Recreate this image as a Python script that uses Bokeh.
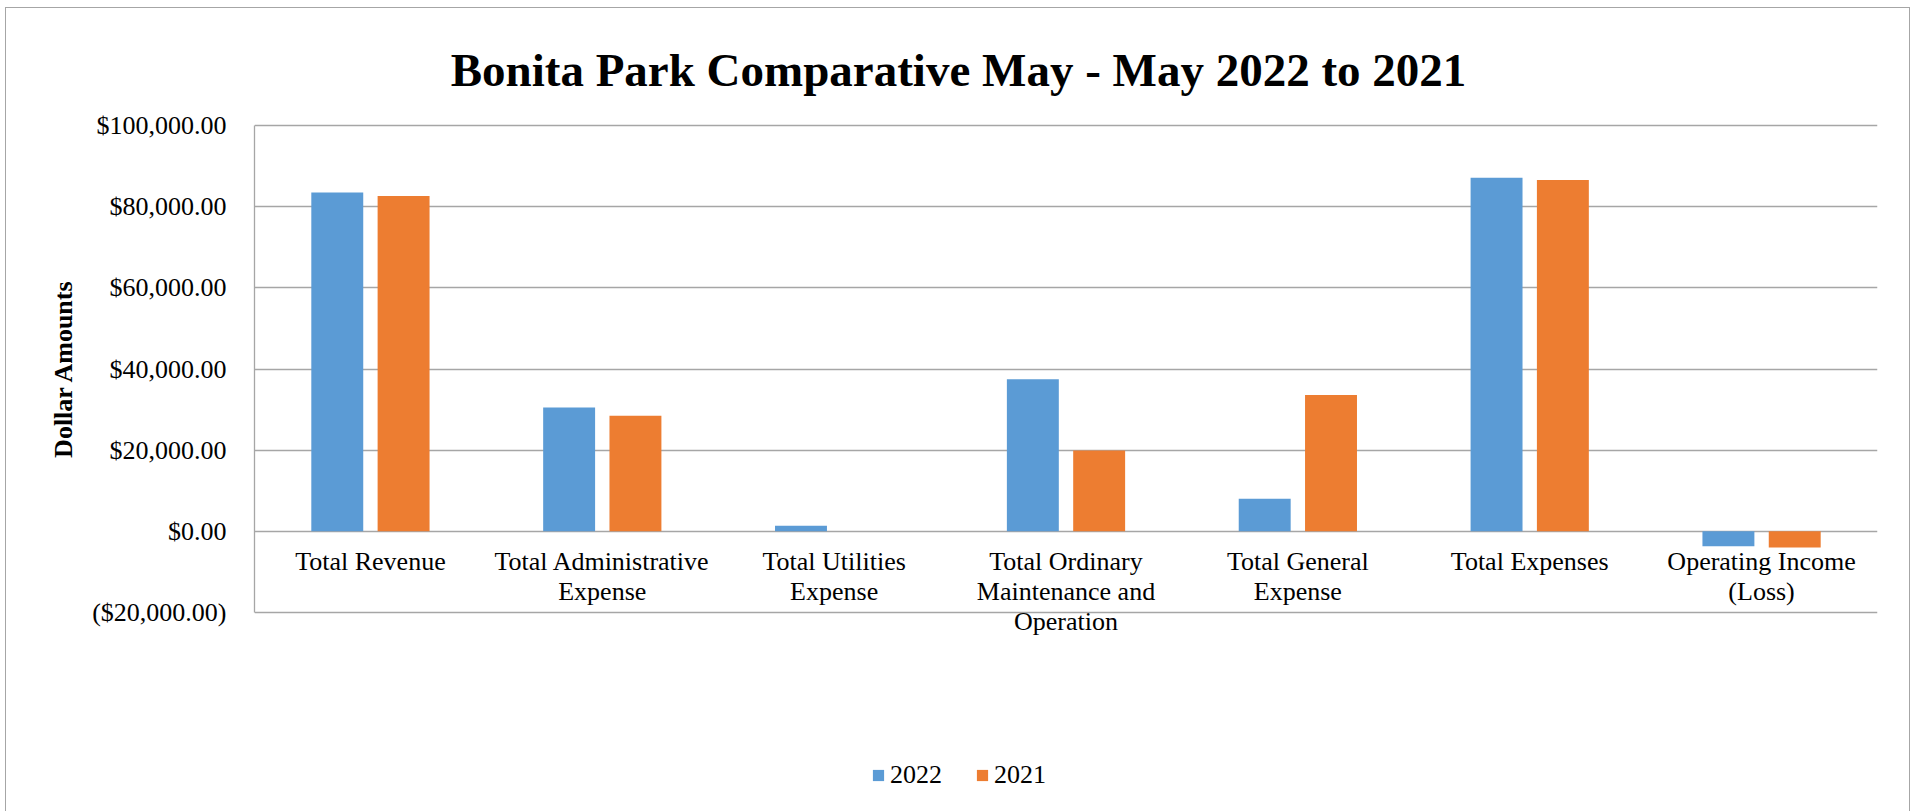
import textwrap
from bokeh.plotting import figure
from bokeh.models import (ColumnDataSource, FactorRange, Range1d, FixedTicker, Title,
                          CustomJSTickFormatter, LabelSet, Label, Legend, LegendItem)
from bokeh.transform import dodge
from bokeh.embed import file_html
from bokeh.resources import INLINE

# ---------------- data ----------------
categories = ["Total Revenue", "Total Administrative Expense", "Total Utilities Expense",
              "Total Ordinary Maintenance and Operation", "Total General Expense",
              "Total Expenses", "Operating Income (Loss)"]
series_names = ["2022", "2021"]
values_2022 = [83500, 30500, 1400, 37500, 8000, 87100, -3700]
values_2021 = [82600, 28500, 0, 19900, 33600, 86600, -4000]
y_ticks = [-20000, 0, 20000, 40000, 60000, 80000, 100000]
title_text = "Bonita Park Comparative May - May 2022 to 2021"
y_axis_title = "Dollar Amounts"

# ---------------- styles ----------------
FONT = "Liberation Serif"
BLUE = "#5B9BD5"
ORANGE = "#ED7D31"
GRID = "#a6a6a6"

# geometry (pixels): value axis spans 487 px; the frame extends beyond it
# (117 px above, 193 px below) so that title, labels and legend sit inside it
AXIS_PX = 487.0
PAD_TOP_PX = 117.0
PAD_BOTTOM_PX = 193.0
span = y_ticks[-1] - y_ticks[0]
units_per_px = span / AXIS_PX
y_lo = y_ticks[0] - PAD_BOTTOM_PX * units_per_px
y_hi = y_ticks[-1] + PAD_TOP_PX * units_per_px

src = ColumnDataSource(dict(cat=categories, v2022=values_2022, v2021=values_2021))

# one row per wrapped line of each category label
lab_cat, lab_txt, lab_off, lab_base = [], [], [], []
for c in categories:
    for i, line in enumerate(textwrap.wrap(c, 20)):
        lab_cat.append(c)
        lab_txt.append(line)
        lab_off.append(-16 - 30 * i)
        lab_base.append(0)
lab_src = ColumnDataSource(dict(cat=lab_cat, text=lab_txt, off=lab_off, base=lab_base))

p = figure(width=1905, height=805,
           x_range=FactorRange(*categories), y_range=Range1d(y_lo, y_hi),
           output_backend="svg", toolbar_location=None,
           min_border_left=248, min_border_right=34, min_border_top=0, min_border_bottom=8,
           styles={"margin-left": "5px", "margin-top": "7px", "border": "1px solid #a6a6a6"})
p.outline_line_color = None
p.background_fill_color = "white"
p.border_fill_color = "white"

r1 = p.vbar(x=dodge("cat", -0.143, range=p.x_range), top="v2022", width=0.224,
            source=src, fill_color=BLUE, line_color=None)
r2 = p.vbar(x=dodge("cat", 0.143, range=p.x_range), top="v2021", width=0.224,
            source=src, fill_color=ORANGE, line_color=None)

# axes
p.xaxis.visible = False
p.xgrid.grid_line_color = None
p.ygrid.grid_line_color = GRID
p.ygrid.grid_line_width = 1.3
yax = p.yaxis[0]
yax.ticker = FixedTicker(ticks=y_ticks)
yax.bounds = (y_ticks[0], y_ticks[-1])
yax.formatter = CustomJSTickFormatter(code="""
const s = '$' + Math.abs(tick).toLocaleString('en-US', {minimumFractionDigits: 2, maximumFractionDigits: 2});
return tick < 0 ? '(' + s + ')' : s;
""")
yax.axis_line_color = GRID
yax.axis_line_width = 1.3
yax.major_tick_line_color = None
yax.minor_tick_line_color = None
yax.major_label_standoff = 22
yax.major_label_text_font = FONT
yax.major_label_text_font_size = "26px"
yax.major_label_text_color = "#000000"

# value-axis title, centred on the value axis (not on the enlarged frame)
ytitle = Title(text=y_axis_title, align="right", offset=271, vertical_align="bottom",
               standoff=23, text_font=FONT, text_font_size="26px",
               text_font_style="bold", text_color="#000000")
p.add_layout(ytitle, "left")

# category labels next to the zero line
cat_labels = LabelSet(x="cat", y="base", text="text", y_offset="off", source=lab_src,
                      text_align="center", text_baseline="top",
                      text_font=FONT, text_font_size="26px", text_color="#000000")
p.add_layout(cat_labels)

# chart title
title = Label(x=704, y=736, x_units="screen", y_units="screen", text=title_text,
              text_align="center", text_baseline="alphabetic", text_font=FONT,
              text_font_size="47px", text_font_style="bold", text_color="#000000")
p.add_layout(title)

# legend
legend = Legend(items=[LegendItem(label=series_names[0], renderers=[r1]),
                       LegendItem(label=series_names[1], renderers=[r2])],
                orientation="horizontal", location=(617, 15),
                glyph_width=14, glyph_height=14, label_standoff=5, spacing=33,
                padding=0, margin=0, border_line_color=None, background_fill_alpha=0,
                label_text_font=FONT, label_text_font_size="26px", label_text_color="#000000")
p.add_layout(legend, "center")

open("out.html", "w").write(file_html(p, INLINE))
